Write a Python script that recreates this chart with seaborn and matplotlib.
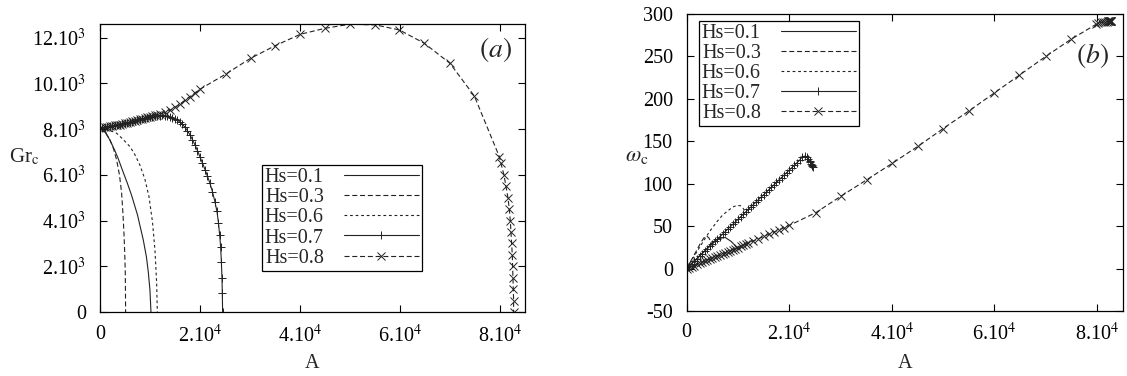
import seaborn as sns
import matplotlib.pyplot as plt

# Hs=0.1
a01 = [0, 1000, 2000, 3000, 3667, 4500, 5500, 6333, 7500, 8667, 9300, 9667, 10000, 10200]
gr01 = [8040, 7880, 7520, 7050, 6700, 6200, 5620, 5100, 4250, 3150, 2400, 1750, 950, 0]
om01 = [0, 6, 12, 18, 22, 27, 33, 35.5, 36.7, 32, 28, 25, 23, 22]

# Hs=0.3
a03 = [0, 1000, 2000, 2700, 3333, 3900, 4333, 4600, 4800, 4950, 5067, 5133]
gr03 = [8040, 7900, 7527, 7150, 6650, 6000, 5195, 4300, 3444, 2600, 1693, 0]
om03 = [0, 11, 22, 30, 36, 38.5, 36, 33, 30.5, 28.5, 27, 26]

# Hs=0.6
a06 = [0, 1500, 3333, 4500, 6000, 7000, 8000, 9000, 9800, 10500, 11000, 11333, 11467]
gr06 = [8040, 7990, 7820, 7580, 7235, 6880, 6420, 5800, 5050, 3950, 2700, 1300, 0]
om06 = [0, 15, 33, 44, 56, 63, 68, 72.5, 74.5, 74, 71, 68, 66]

# Hs=0.7
a07 = [0, 500, 1000, 1500, 2000, 2500, 3000, 3500, 4000, 4500, 5000, 5500, 6000,
       6500, 7000, 7500, 8000, 8500, 9000, 9500, 10000, 10500, 11000, 11500, 12000,
       12500, 13000, 13500, 14000, 14500, 15000, 15500, 16000, 16500, 17000, 17500,
       18000, 18500, 19000, 19500, 20000, 20500, 21000, 21500, 22000, 22500, 23000,
       23400, 23700, 23950, 24130, 24280, 24400, 24470, 24530]
gr07 = [8040, 8060, 8080, 8100, 8120, 8140, 8160, 8180, 8200, 8225, 8250, 8275, 8300,
        8330, 8360, 8390, 8420, 8450, 8480, 8505, 8530, 8550, 8570, 8585, 8595,
        8600, 8590, 8570, 8540, 8500, 8450, 8390, 8310, 8210, 8080, 7930,
        7750, 7540, 7310, 7060, 6790, 6520, 6230, 5940, 5630, 5260, 4820,
        4400, 3900, 3350, 2860, 2200, 1500, 820, 0]
om07 = [0, 2.9, 5.8, 8.7, 11.6, 14.5, 17.4, 20.3, 23.2, 26.1, 29.0, 31.9, 34.8,
        37.7, 40.6, 43.5, 46.4, 49.3, 52.2, 55.1, 58.0, 60.9, 63.8, 66.7, 69.6,
        72.5, 75.4, 78.3, 81.2, 84.1, 87.0, 89.9, 92.8, 95.7, 98.6, 101.5,
        104.4, 107.3, 110.2, 113.1, 116.0, 118.9, 121.8, 124.7, 127.6, 131.5, 132.5,
        131, 129.5, 127, 125, 123, 121.5, 120.5, 119.5]

# Hs=0.8
a08 = [0, 500, 1000, 1500, 2000, 2500, 3000, 3500, 4000, 4500, 5000, 5500, 6000,
       6500, 7000, 7500, 8000, 8500, 9000, 9500, 10000, 10500, 11000, 11500, 12000,
       13000, 14000, 15000, 16000, 17000, 18000, 19000, 20000, 25200, 30130, 35070,
       40070, 45070, 50000, 55070, 59870, 64870, 70000, 74870, 79870, 80200, 80800,
       81200, 81600, 81870, 82070, 82200, 82330, 82470, 82530, 82600, 82670, 82730, 82730]
gr08 = [8040, 8060, 8080, 8100, 8120, 8140, 8160, 8180, 8200, 8225, 8250, 8275, 8305,
        8335, 8365, 8395, 8425, 8455, 8490, 8520, 8550, 8580, 8610, 8640, 8670,
        8740, 8830, 8950, 9100, 9260, 9420, 9590, 9745, 10415, 11100, 11654,
        12150, 12413, 12590, 12560, 12340, 11757, 10880, 9452, 6800, 6500, 6000,
        5500, 5000, 4500, 4000, 3500, 3000, 2500, 2000, 1500, 1000, 500, 0]
om08 = [0, 1.2, 2.4, 3.6, 4.8, 6.0, 7.2, 8.4, 9.6, 10.8, 12.0, 13.2, 14.4,
        15.7, 17.0, 18.3, 19.6, 20.9, 22.2, 23.5, 24.8, 26.1, 27.4, 28.7, 30.0,
        32.6, 35.2, 37.8, 40.4, 43.0, 45.6, 48.2, 50.8, 66.0, 85.5, 104.5,
        124.0, 144.0, 165.0, 186.0, 206.5, 228.0, 250.0, 270.0, 288.0, 289.0, 290.0,
        290.5, 291.0, 291.0, 291.5, 291.5, 291.5, 292.0, 292.0, 292.0, 292.0, 292.0, 292.0]

xticks = [0, 20000, 40000, 60000, 80000]
xticklabels = ['0', '2.10$^4$', '4.10$^4$', '6.10$^4$', '8.10$^4$']
gr_ticks = [0, 2000, 4000, 6000, 8000, 10000, 12000]
gr_ticklabels = ['0', '2.10$^3$', '4.10$^3$', '6.10$^3$', '8.10$^3$', '10.10$^3$', '12.10$^3$']
om_ticks = [-50, 0, 50, 100, 150, 200, 250, 300]

series = [
    ('Hs=0.1', a01, gr01, om01, '-', None),
    ('Hs=0.3', a03, gr03, om03, (0, (4.5, 2.5)), None),
    ('Hs=0.6', a06, gr06, om06, (0, (2.5, 2.5)), None),
    ('Hs=0.7', a07, gr07, om07, '-', '+'),
    ('Hs=0.8', a08, gr08, om08, (0, (4.5, 2.5)), 'x'),
]

sns.set_theme(style='ticks')
plt.rcParams['font.family'] = ['Liberation Serif', 'DejaVu Serif']
plt.rcParams['mathtext.fontset'] = 'stix'
plt.rcParams['axes.unicode_minus'] = False

fig = plt.figure(figsize=(11.27, 3.76), dpi=100)
ax1 = fig.add_axes([0.0887, 0.1702, 0.3771, 0.766])
ax2 = fig.add_axes([0.6093, 0.1729, 0.3869, 0.7899])

for lab, a, gr, om, ls, mk in series:
    for ax, y in ((ax1, gr), (ax2, om)):
        sns.lineplot(x=a, y=y, ax=ax, sort=False, estimator=None, color='#222222',
                     linestyle=ls, linewidth=0.8, marker=mk, markersize=6,
                     markeredgewidth=0.7, markeredgecolor='#222222', label=lab)

for ax in (ax1, ax2):
    ax.set_xlim(0, 85000)
    ax.set_xticks(xticks)
    ax.set_xticklabels(xticklabels)
    ax.tick_params(direction='in', top=True, right=True, length=5, width=0.8,
                   labelsize=14.5, colors='black')
    ax.tick_params(axis='x', pad=9)
    ax.tick_params(axis='y', pad=10)
    for s in ax.spines.values():
        s.set_color('black')
        s.set_linewidth(0.9)
    ax.set_xlabel('A', fontsize=14.5)
    ax.xaxis.set_label_coords(0.5, -0.145)

ax1.set_ylim(0, 12600)
ax1.set_yticks(gr_ticks)
ax1.set_yticklabels(gr_ticklabels)
ax1.set_ylabel('Gr$_{\\rm c}$', fontsize=15, rotation=0, va='center')
ax1.yaxis.set_label_coords(-0.178, 0.54)
ax1.text(0.93, 0.91, '$(a)$', transform=ax1.transAxes, fontsize=20, ha='center', va='center')

ax2.set_ylim(-50, 300)
ax2.set_yticks(om_ticks)
ax2.set_ylabel('$\\omega_{\\rm c}$', fontsize=16, rotation=0, va='center')
ax2.yaxis.set_label_coords(-0.115, 0.52)
ax2.text(0.93, 0.86, '$(b)$', transform=ax2.transAxes, fontsize=20, ha='center', va='center')

legkw = dict(markerfirst=False, fancybox=False, edgecolor='black', framealpha=1,
             fontsize=14.5, handlelength=3.7, labelspacing=0.05, borderpad=0.15,
             borderaxespad=0, numpoints=1, handletextpad=1.0)
l1 = ax1.legend(loc='upper left', bbox_to_anchor=(0.381, 0.51), **legkw)
l2 = ax2.legend(loc='upper left', bbox_to_anchor=(0.028, 0.977), **legkw)
for l in (l1, l2):
    l.get_frame().set_linewidth(0.9)

fig.savefig('out.png', dpi=100)
